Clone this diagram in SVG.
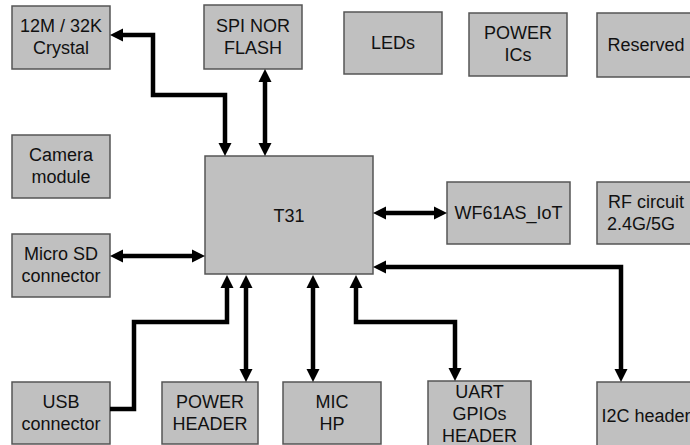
<svg xmlns="http://www.w3.org/2000/svg" width="690" height="445" viewBox="0 0 690 445">
<style>
.box{fill:#c0c0c0;stroke:#555;stroke-width:1.5}
.t{font-family:"Liberation Sans",Arial,sans-serif;font-size:18px;fill:#111;text-anchor:middle}
.c{fill:none;stroke:#000;stroke-width:4.5;stroke-linejoin:miter}
.a2{marker-start:url(#ah);marker-end:url(#ah)}
.a1{marker-end:url(#ah)}
</style>
<defs>
<marker id="ah" markerUnits="userSpaceOnUse" markerWidth="14" markerHeight="14" viewBox="0 0 14 14" refX="1" refY="7" orient="auto-start-reverse">
<path d="M0,0.5 L13,7 L0,13.5 z" fill="#000"/>
</marker>
</defs>
<rect width="690" height="445" fill="#fff"/>
<g id="crystal"><rect class="box" x="12" y="6" width="98" height="63"/><text class="t" x="61" y="32">12M / 32K</text><text class="t" x="61" y="54">Crystal</text></g>
<g id="spi"><rect class="box" x="204" y="5" width="98" height="64"/><text class="t" x="253" y="32">SPI NOR</text><text class="t" x="253" y="54">FLASH</text></g>
<g id="leds"><rect class="box" x="344" y="12" width="98" height="62"/><text class="t" x="393" y="49">LEDs</text></g>
<g id="powerics"><rect class="box" x="469" y="13" width="98" height="63"/><text class="t" x="518" y="39">POWER</text><text class="t" x="518" y="61">ICs</text></g>
<g id="reserved"><rect class="box" x="597" y="13" width="98" height="64"/><text class="t" x="646" y="51">Reserved</text></g>
<g id="camera"><rect class="box" x="12" y="135" width="98" height="63"/><text class="t" x="61" y="161">Camera</text><text class="t" x="61" y="183">module</text></g>
<g id="t31"><rect class="box" x="205" y="156" width="168" height="118"/><text class="t" x="289" y="222">T31</text></g>
<g id="wf61"><rect class="box" x="447" y="182" width="123" height="62"/><text class="t" x="508.5" y="219">WF61AS_IoT</text></g>
<g id="rf"><rect class="box" x="597" y="182" width="98" height="62"/><text class="t" x="646" y="208">RF circuit</text><text class="t" x="641" y="230">2.4G/5G</text></g>
<g id="microsd"><rect class="box" x="12" y="234" width="98" height="63"/><text class="t" x="61" y="260">Micro SD</text><text class="t" x="61" y="282">connector</text></g>
<g id="usb"><rect class="box" x="12" y="382" width="98" height="62"/><text class="t" x="61" y="408">USB</text><text class="t" x="61" y="430">connector</text></g>
<g id="powerheader"><rect class="box" x="162" y="382" width="96" height="62"/><text class="t" x="210" y="408">POWER</text><text class="t" x="210" y="430">HEADER</text></g>
<g id="mic"><rect class="box" x="283" y="382" width="98" height="62"/><text class="t" x="332" y="408">MIC</text><text class="t" x="332" y="430">HP</text></g>
<g id="uart"><rect class="box" x="428" y="381" width="103" height="70"/><text class="t" x="479.5" y="398">UART</text><text class="t" x="479.5" y="420">GPIOs</text><text class="t" x="479.5" y="442">HEADER</text></g>
<g id="i2c"><rect class="box" x="597" y="382" width="98" height="70"/><text class="t" x="646" y="422">I2C header</text></g>
<g id="connectors">
<path class="c a2" d="M122,35 H153 V95 H225 V144"/>
<path class="c a2" d="M265,81 V144"/>
<path class="c a2" d="M122,256 H193"/>
<path class="c a2" d="M385,213 H435"/>
<path class="c a2" d="M385,267 H621 V370"/>
<path class="c a1" d="M110,409 H134 V322 H227 V287"/>
<path class="c a2" d="M246,287 V370"/>
<path class="c a2" d="M313,287 V370"/>
<path class="c a2" d="M356,287 V322 H455 V369"/>
</g>
</svg>
